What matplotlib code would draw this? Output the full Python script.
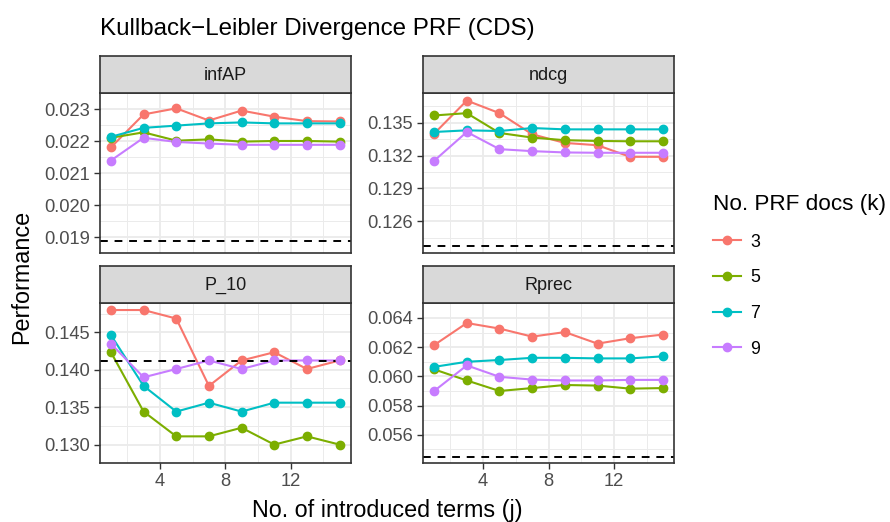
import numpy as np
import matplotlib
matplotlib.use('Agg')
import matplotlib.pyplot as plt
from matplotlib.lines import Line2D

plt.rcParams['font.family'] = ['Liberation Sans', 'DejaVu Sans']

# data
terms = [1, 3, 5, 7, 9, 11, 13, 15]
k_labels = ['3', '5', '7', '9']
colors = ['#F8766D', '#7CAE00', '#00BFC4', '#C77CFF']

infap_k3 = [0.02181, 0.02284, 0.02303, 0.02265, 0.02296, 0.02277, 0.02263, 0.02262]
infap_k5 = [0.02211, 0.02228, 0.02202, 0.02206, 0.02199, 0.02201, 0.02201, 0.02199]
infap_k7 = [0.02214, 0.02242, 0.02249, 0.02256, 0.02259, 0.02256, 0.02256, 0.02256]
infap_k9 = [0.02140, 0.02211, 0.02198, 0.02193, 0.02189, 0.02189, 0.02189, 0.02189]
infap_base = 0.01889

ndcg_k3 = [0.13400, 0.13702, 0.13587, 0.13394, 0.13315, 0.13294, 0.13188, 0.13188]
ndcg_k5 = [0.13566, 0.13587, 0.13406, 0.13364, 0.13340, 0.13333, 0.13330, 0.13330]
ndcg_k7 = [0.13415, 0.13430, 0.13424, 0.13451, 0.13439, 0.13439, 0.13439, 0.13439]
ndcg_k9 = [0.13152, 0.13415, 0.13258, 0.13240, 0.13228, 0.13225, 0.13225, 0.13225]
ndcg_base = 0.12373

p10_k3 = [0.14798, 0.14798, 0.14684, 0.13784, 0.14124, 0.14234, 0.14010, 0.14124]
p10_k5 = [0.14234, 0.13441, 0.13110, 0.13110, 0.13225, 0.13000, 0.13110, 0.13000]
p10_k7 = [0.14463, 0.13784, 0.13441, 0.13560, 0.13441, 0.13560, 0.13560, 0.13560]
p10_k9 = [0.14348, 0.13899, 0.14010, 0.14124, 0.14010, 0.14124, 0.14124, 0.14124]
p10_base = 0.14120

rprec_k3 = [0.06214, 0.06365, 0.06327, 0.06272, 0.06303, 0.06224, 0.06261, 0.06286]
rprec_k5 = [0.06048, 0.05972, 0.05900, 0.05920, 0.05941, 0.05937, 0.05916, 0.05920]
rprec_k7 = [0.06065, 0.06100, 0.06112, 0.06127, 0.06127, 0.06123, 0.06123, 0.06137]
rprec_k9 = [0.05900, 0.06075, 0.05997, 0.05978, 0.05972, 0.05972, 0.05976, 0.05976]
rprec_base = 0.05451

infap_ticks = [0.019, 0.020, 0.021, 0.022, 0.023]
ndcg_ticks = [0.126, 0.129, 0.132, 0.135]
p10_ticks = [0.130, 0.135, 0.140, 0.145]
rprec_ticks = [0.056, 0.058, 0.060, 0.062, 0.064]
x_ticks = [4, 8, 12]

W, H = 890, 522


def px_axes(fig, x0, y0, x1, y1, **kw):
    return fig.add_axes([x0 / W, 1 - y1 / H, (x1 - x0) / W, (y1 - y0) / H], **kw)


def draw_panel(fig, box, name, series, base, yticks, show_x):
    x0, y0, x1, y1 = box
    ax = px_axes(fig, x0, y0, x1, y1)
    strip = px_axes(fig, x0, y0 - 37, x1, y0)
    strip.set_facecolor('#D9D9D9')
    strip.set_xticks([])
    strip.set_yticks([])
    for s in strip.spines.values():
        s.set_color('#333333')
        s.set_linewidth(1.2)
    strip.text(0.5, 0.48, name, ha='center', va='center', fontsize=13,
               color='#1A1A1A', transform=strip.transAxes)

    allv = np.concatenate([np.array(s) for s in series] + [[base]])
    lo, hi = allv.min(), allv.max()
    pad = (hi - lo) * 0.05
    ax.set_ylim(lo - pad, hi + pad)
    ax.set_xlim(0.3, 15.7)

    for vals, c in zip(series, colors):
        ax.plot(terms, vals, color=c, lw=1.5, zorder=2)
    ax.axhline(base, color='black', lw=1.4, ls=(0, (4, 3.5)), zorder=2.5)
    for vals, c in zip(series, colors):
        ax.plot(terms, vals, 'o', color=c, ms=6, zorder=3)

    ax.set_yticks(yticks)
    ax.set_yticklabels(['%.3f' % t for t in yticks])
    ax.set_yticks([(a + b) / 2 for a, b in zip(yticks[:-1], yticks[1:])]
                  + [yticks[0] - (yticks[1] - yticks[0]) / 2,
                     yticks[-1] + (yticks[1] - yticks[0]) / 2], minor=True)
    ax.set_xticks(x_ticks)
    ax.set_xticks([2, 6, 10, 14], minor=True)
    ax.set_xticklabels([str(t) for t in x_ticks] if show_x else [])
    ax.grid(which='major', color='#EBEBEB', lw=1.3)
    ax.grid(which='minor', color='#EBEBEB', lw=0.7)
    ax.set_axisbelow(True)
    ax.tick_params(which='major', length=4.5, width=1.0, color='#333333',
                   labelsize=13.2, labelcolor='#4D4D4D', pad=2.5,
                   bottom=show_x)
    ax.tick_params(which='minor', length=0)
    for s in ax.spines.values():
        s.set_color('#333333')
        s.set_linewidth(1.2)
    return ax


def main():
    fig = plt.figure(figsize=(W / 100, H / 100), dpi=100)

    left = (99.5, 351.0)
    right = (422.7, 674.3)
    top = (93.3, 253.3)
    bot = (303.3, 463.3)

    draw_panel(fig, (left[0], top[0], left[1], top[1]), 'infAP',
               [infap_k3, infap_k5, infap_k7, infap_k9], infap_base, infap_ticks, False)
    draw_panel(fig, (right[0], top[0], right[1], top[1]), 'ndcg',
               [ndcg_k3, ndcg_k5, ndcg_k7, ndcg_k9], ndcg_base, ndcg_ticks, False)
    draw_panel(fig, (left[0], bot[0], left[1], bot[1]), 'P_10',
               [p10_k3, p10_k5, p10_k7, p10_k9], p10_base, p10_ticks, True)
    draw_panel(fig, (right[0], bot[0], right[1], bot[1]), 'Rprec',
               [rprec_k3, rprec_k5, rprec_k7, rprec_k9], rprec_base, rprec_ticks, True)

    fig.text(100 / W, 1 - 35 / H, 'Kullback\u2212Leibler Divergence PRF (CDS)',
             fontsize=17.4, ha='left', va='baseline')
    fig.text(387 / W, 1 - 511 / H, 'No. of introduced terms (j)',
             fontsize=16.8, ha='center', va='center')
    fig.text(22 / W, 1 - 277 / H, 'Performance', fontsize=16.8,
             rotation=90, ha='center', va='center')

    handles = [Line2D([], [], color=c, lw=1.5, marker='o', ms=6) for c in colors]
    fig.legend(handles, k_labels, title='No. PRF docs (k)',
               loc='upper left', bbox_to_anchor=(697 / W, 1 - 178 / H),
               frameon=False, fontsize=12.8, title_fontsize=16.2,
               handlelength=1.6, handletextpad=0.5, labelspacing=1.05,
               alignment='left')

    fig.savefig('out.png', dpi=100)


if __name__ == '__main__':
    main()
